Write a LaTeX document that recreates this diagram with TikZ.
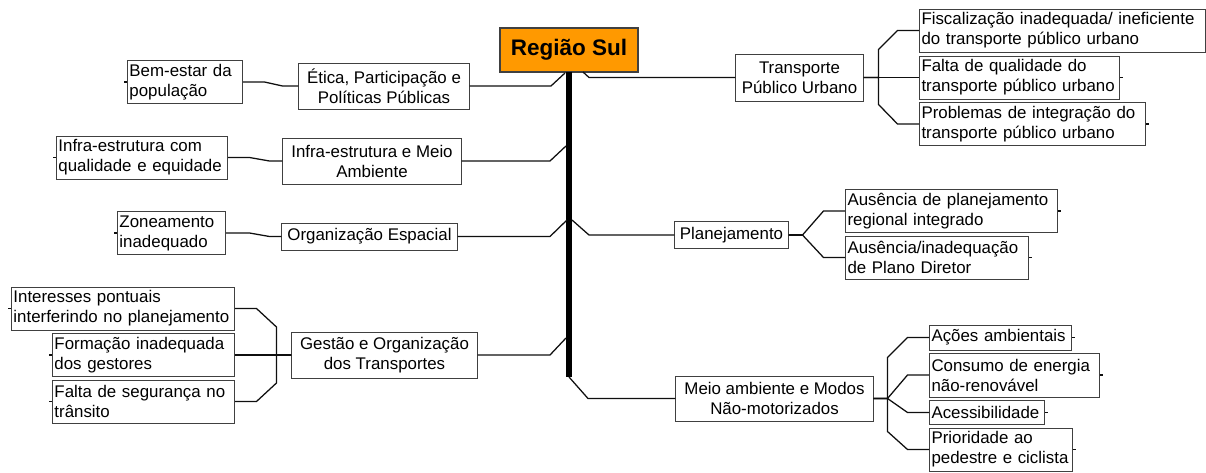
\documentclass[tikz,border=0pt]{standalone}
\usepackage{fontspec}
\setmainfont{Liberation Sans}
\definecolor{boxbdr}{RGB}{64,64,64}
\definecolor{rootfill}{RGB}{255,153,0}
\definecolor{lineclr}{RGB}{15,15,15}
\tikzset{
  rootblk/.style={rectangle,draw=boxbdr,fill=rootfill,line width=0.8pt,
    minimum width=3.45cm,minimum height=1.1cm,
    font=\fontsize{16}{19}\selectfont\bfseries,text=black,inner sep=2pt},
  catblk/.style={rectangle,draw=boxbdr,fill=white,line width=0.7pt,
    font=\fontsize{12}{14.2}\selectfont,align=center,text=black,
    inner xsep=2pt,inner ysep=1pt},
  leafblk/.style={catblk,align=left,inner xsep=0.05cm,minimum height=1.075cm},
  conn/.style={draw=lineclr,line width=0.9pt},
  stub/.style={conn,line width=1.4pt},
  trunk/.style={draw=black,line width=4.3pt},
}

\begin{document}
\begin{tikzpicture}[x=0.025cm,y=-0.025cm]
  \useasboundingbox (0,0) rectangle (1206,473);
  % centre and trunk
  \node[rootblk] (root) at (569,50) {Região Sul};
  \coordinate (ttop) at (569,72);
  \coordinate (tbot) at (569,377);
  \draw[trunk] (ttop) -- (tbot);

  % left categories
  \node[catblk,minimum width=4.25cm,minimum height=1.15cm] (eti) at (384,86) {Ética, Participação e\\Políticas Públicas};
  \node[catblk,minimum width=4.45cm,minimum height=1.15cm] (ima) at (372,161) {Infra-estrutura e Meio\\Ambiente};
  \node[catblk,minimum width=4.375cm,minimum height=0.675cm] (oes) at (369.5,236.5) {Organização Espacial};
  \node[catblk,minimum width=4.625cm,minimum height=1.15cm] (gto) at (384.5,355) {Gestão e Organização\\dos Transportes};
  % right categories
  \node[catblk,minimum width=3.175cm,minimum height=1.175cm] (tpu) at (799.5,77.5) {Transporte\\Público Urbano};
  \node[catblk,minimum width=2.825cm,minimum height=0.675cm] (pla) at (731.5,235) {Planejamento};
  \node[catblk,minimum width=4.925cm,minimum height=1.125cm] (mam) at (774.5,398.5) {Meio ambiente e Modos\\Não-motorizados};

  % right leaves
  \node[leafblk,text width=7.05cm,anchor=west] (fis) at (919,30.5) {Fiscalização inadequada/ ineficiente\\do transporte público urbano};
  \node[leafblk,text width=4.9cm,anchor=west] (fqu) at (919,77.5) {Falta de qualidade do\\transporte público urbano};
  \node[leafblk,text width=5.55cm,anchor=west] (pin) at (919,124) {Problemas de integração do\\transporte público urbano};
  \node[leafblk,text width=5.2cm,anchor=west] (apl) at (845,211) {Ausência de planejamento\\regional integrado};
  \node[leafblk,text width=4.475cm,anchor=west] (apd) at (845,257.5) {Ausência/inadequação\\de Plano Diretor};
  \node[leafblk,text width=3.45cm,minimum height=0.625cm,anchor=west] (aco) at (929,337.5) {Ações ambientais};
  \node[leafblk,text width=4.15cm,minimum height=1.1cm,anchor=west] (con) at (929,375) {Consumo de energia\\não-renovável};
  \node[leafblk,text width=2.775cm,minimum height=0.6cm,anchor=west] (ace) at (929,412.5) {Acessibilidade};
  \node[leafblk,text width=3.475cm,anchor=west] (pri) at (929,449.5) {Prioridade ao\\pedestre e ciclista};
  % left leaves
  \node[leafblk,text width=2.775cm,anchor=east] (bem) at (243,82) {Bem-estar da\\população};
  \node[leafblk,text width=4.175cm,anchor=east] (iqe) at (228,157.5) {Infra-estrutura com\\qualidade e equidade};
  \node[leafblk,text width=2.6cm,anchor=east] (zon) at (226,233) {Zoneamento\\inadequado};
  \node[leafblk,text width=5.475cm,anchor=east] (int) at (235,308.5) {Interesses pontuais\\interferindo no planejamento};
  \node[leafblk,text width=4.45cm,anchor=east] (for) at (235,355) {Formação inadequada\\dos gestores};
  \node[leafblk,text width=4.45cm,anchor=east] (fse) at (235,401.5) {Falta de segurança no\\trânsito};

  % trunk to categories
  \coordinate (jeti) at (565,73);
  \coordinate (jima) at (566,146);
  \coordinate (joes) at (567,220);
  \coordinate (jgto) at (566,338);
  \coordinate (jtpu) at (583,72);
  \coordinate (jpla) at (572,220);
  \draw[conn] (jeti) -- ++(-14,13) -- (eti.east);
  \draw[conn] (jima) -- ++(-16,15) -- (ima.east);
  \draw[conn] (joes) -- ++(-17,16.5) -- (oes.east);
  \draw[conn] (jgto) -- ++(-16,17) -- (gto.east);
  \draw[conn] (jtpu) -- ++(6,5.5) -- (tpu.west);
  \draw[conn] (jpla) -- ++(17,15) -- (pla.west);
  \draw[conn] (tbot) -- ++(19,21.5) -- (mam.west);

  % categories to leaves
  \draw[stub] (tpu.east) -- ++(22,0);
  \draw[conn] (tpu.east) -- (fqu.west);
  \draw[conn] (tpu.east) -- ++(15,0) -- ++(0,-28) -- ++(19,-19) -- (fis.west);
  \draw[conn] (tpu.east) -- ++(15,0) -- ++(0,27) -- ++(19,19.5) -- (pin.west);

  \draw[stub] (pla.east) -- ++(14,0);
  \draw[conn] (pla.east) -- ++(14,0) -- ++(21,-24) -- (apl.west);
  \draw[conn] (pla.east) -- ++(14,0) -- ++(21,22.5) -- (apd.west);

  \draw[stub] (mam.east) -- ++(14,0);
  \draw[conn] (mam.east) -- ++(14,0) -- ++(0,-41) -- ++(20,-20) -- (aco.west);
  \draw[conn] (mam.east) -- ++(14,0) -- ++(20,-23.5) -- (con.west);
  \draw[conn] (mam.east) -- ++(14,0) -- ++(20,14) -- (ace.west);
  \draw[conn] (mam.east) -- ++(14,0) -- ++(0,33) -- ++(20,18) -- (pri.west);

  \draw[conn] (eti.west) -- ++(-16,0) -- ++(-18,-4) -- (bem.east);
  \draw[conn] (ima.west) -- ++(-13,0) -- ++(-20,-3.5) -- (iqe.east);
  \draw[conn] (oes.west) -- ++(-12,0) -- ++(-20,-3.5) -- (zon.east);

  \draw[stub] (gto.west) -- ++(-22,0);
  \draw[conn] (gto.west) -- (for.east);
  \draw[conn] (gto.west) -- ++(-15,0) -- ++(0,-28) -- ++(-20,-18.5) -- (int.east);
  \draw[conn] (gto.west) -- ++(-15,0) -- ++(0,28) -- ++(-20,18.5) -- (fse.east);

  % collapsed-branch ticks
  \foreach \n in {fis,fqu,pin,apl,apd,aco,con,ace,pri}
    \draw[conn] (\n.east) -- ++(3,0);
  \foreach \n in {bem,iqe,zon,int,for,fse}
    \draw[conn] (\n.west) -- ++(-3,0);
\end{tikzpicture}
\end{document}
